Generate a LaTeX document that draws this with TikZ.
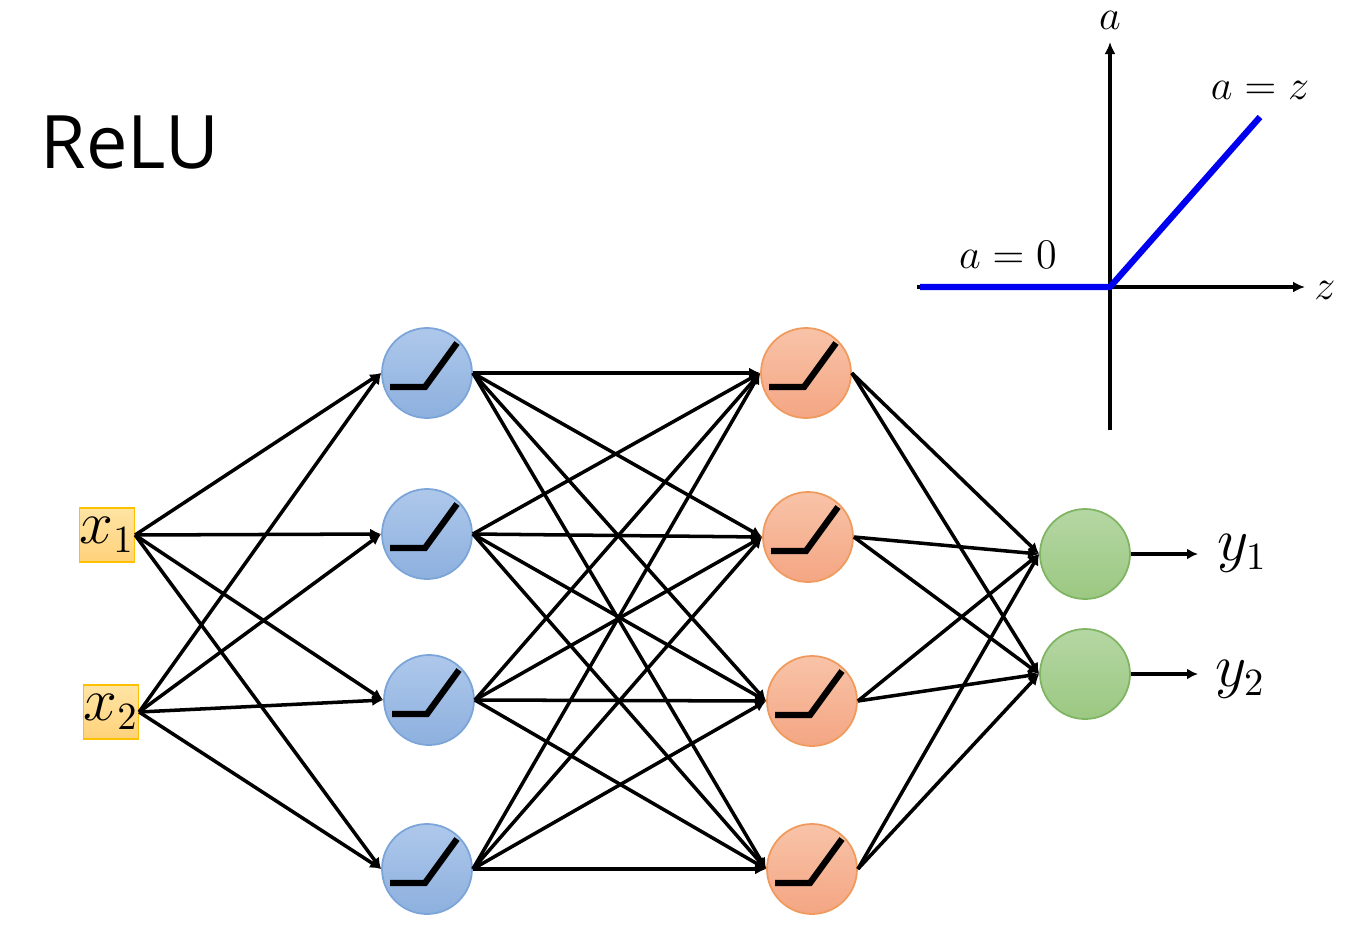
\documentclass[tikz,border=0pt]{standalone}
\usepackage{amsmath, amssymb}
\usepackage{fontspec}
\setsansfont{Open Sans}
\usetikzlibrary{arrows.meta, positioning, calc}
\definecolor{bluetop}{HTML}{AEC8EB}
\definecolor{bluebot}{HTML}{8DB0DE}
\definecolor{blueline}{HTML}{7BA4D8}
\definecolor{orangetop}{HTML}{F8C3A8}
\definecolor{orangebot}{HTML}{F4A683}
\definecolor{orangeline}{HTML}{F09A5E}
\definecolor{greentop}{HTML}{B5D7A3}
\definecolor{greenbot}{HTML}{9BC882}
\definecolor{greenline}{HTML}{7FB462}
\definecolor{inputtop}{HTML}{FFE4A3}
\definecolor{inputbot}{HTML}{FFD27B}
\definecolor{inputline}{HTML}{FFC000}
\definecolor{relublue}{HTML}{0000F0}
\newcommand{\drawrelu}[1]{
    \begin{scope}[shift={(#1)}]
        \draw[line width=1.8pt] (-0.37,-0.14) -- (-0.02,-0.14) -- (0.30,0.30);
    \end{scope}
}

\begin{document}
\begin{tikzpicture}[
    neuron/.style={circle, minimum size=0.9cm, inner sep=0pt, line width=0.5pt},
    hidden/.style={neuron, draw=blueline, top color=bluetop, bottom color=bluebot},
    second/.style={neuron, draw=orangeline, top color=orangetop, bottom color=orangebot},
    outer/.style={neuron, draw=greenline, top color=greentop, bottom color=greenbot},
    inbox/.style={draw=inputline, top color=inputtop, bottom color=inputbot, minimum size=0.54cm, inner sep=0pt, font=\fontsize{16}{18}\selectfont},
    signal/.style={-{Latex[length=1.1mm, width=1.1mm]}, line width=1pt},
    axis/.style={-{Latex[length=1.2mm, width=1.1mm]}, line width=1pt},
    label/.style={font=\fontsize{12.5}{14}\selectfont}
]
\useasboundingbox (0,0) rectangle (13.45,9.34);

% Title
\node[font=\sffamily\fontsize{21}{25}\selectfont] (title) at (1.30,7.91) {ReLU};

% ReLU graph
\coordinate (origin) at (11.10,6.47);
\coordinate (zend) at (13.05,6.47);
\coordinate (aend) at (11.10,8.92);
\draw[axis] (9.17,6.47) -- (zend);
\draw[axis] (11.10,5.04) -- (aend);
\node[label] (zlabel) at (13.25,6.44) {$z$};
\node[label] (alabel) at (11.10,9.14) {$a$};
\draw[relublue, line width=1.8pt] (9.20,6.47) -- (origin) -- (12.60,8.17);
\node[label] (zero) at (10.08,6.79) {$a = 0$};
\node[label] (ident) at (12.60,8.44) {$a = z$};

% Inputs
\node[inbox] (in1) at (1.07,3.99) {$x_1$};
\node[inbox] (in2) at (1.11,2.22) {$x_2$};

% First hidden layer
\node[hidden] (h1) at (4.27,5.61) {};
\node[hidden] (h2) at (4.27,4.00) {};
\node[hidden] (h3) at (4.29,2.34) {};
\node[hidden] (h4) at (4.27,0.65) {};

% Second hidden layer
\node[second] (s1) at (8.06,5.61) {};
\node[second] (s2) at (8.08,3.97) {};
\node[second] (s3) at (8.12,2.33) {};
\node[second] (s4) at (8.12,0.65) {};

% Output layer
\node[outer] (o1) at (10.85,3.80) {};
\node[outer] (o2) at (10.85,2.60) {};

% ReLU symbols in the hidden neurons
\foreach \n in {h1,h2,h3,h4,s1,s2,s3,s4} {
    \drawrelu{\n}
}

% Connections
\foreach \i in {1,2} {
    \foreach \j in {1,2,3,4} {
        \draw[signal] (in\i.east) -- (h\j.west);
    }
}
\foreach \i in {1,2,3,4} {
    \foreach \j in {1,2,3,4} {
        \draw[signal] (h\i.east) -- (s\j.west);
    }
}
\foreach \i in {1,2,3,4} {
    \foreach \j in {1,2} {
        \draw[signal] (s\i.east) -- (o\j.west);
    }
}

% Outputs
\node[font=\fontsize{16}{18}\selectfont] (y1) at (12.42,3.81) {$y_1$};
\node[font=\fontsize{16}{18}\selectfont] (y2) at (12.40,2.55) {$y_2$};
\coordinate (y1end) at (11.98,3.80);
\coordinate (y2end) at (11.98,2.60);
\draw[signal] (o1.east) -- (y1end);
\draw[signal] (o2.east) -- (y2end);

\end{tikzpicture}
\end{document}
